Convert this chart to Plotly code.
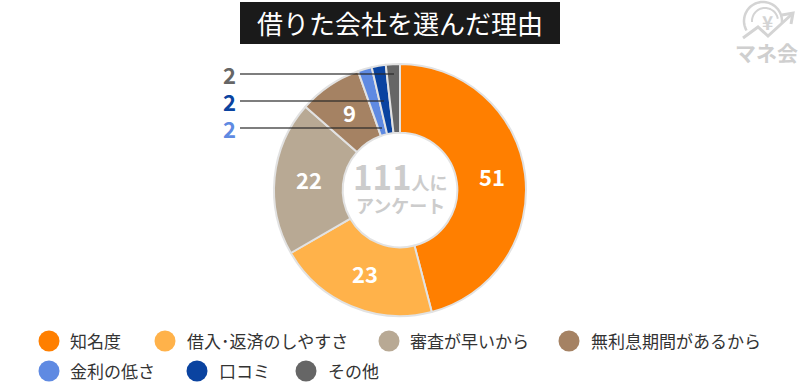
import math
import plotly.graph_objects as go

TITLE = "借りた会社を選んだ理由"
categories = ["知名度", "借入･返済のしやすさ", "審査が早いから", "無利息期間があるから", "金利の低さ", "口コミ", "その他"]
values = [51, 23, 22, 9, 2, 2, 2]
colors = ["#ff7f00", "#ffb24a", "#b8a994", "#a58263", "#5f8ae2", "#0a43a0", "#666666"]
shown_inside = [True, True, True, True, False, False, False]
legend_x = [49, 165, 389, 569, 49, 197, 306]
legend_y = [341, 341, 341, 341, 371, 371, 371]
legend_text_x = [68, 185, 408, 589, 68, 217, 326]

JP = "Noto Sans CJK JP"
CX, CY, R = 400, 190, 126

fig = go.Figure()

fig.add_trace(go.Pie(
    values=values, labels=categories, sort=False, direction="clockwise", rotation=0,
    hole=0.455,
    marker=dict(colors=colors, line=dict(color="#e2e2e2", width=2)),
    textinfo="none",
    domain=dict(x=[(CX - R) / 800, (CX + R) / 800], y=[1 - (CY + R) / 390, 1 - (CY - R) / 390]),
    showlegend=False, hoverinfo="skip",
))

fig.add_trace(go.Scatter(
    x=legend_x, y=legend_y, mode="markers",
    marker=dict(size=21, color=colors, line=dict(width=0)),
    showlegend=False, hoverinfo="skip",
))

ann = []
shapes = []

def text(x, y, s, size, color, anchor="center", bold=False):
    ann.append(dict(x=x, y=y, xref="x", yref="y", text=s, showarrow=False, xanchor=anchor, yanchor="middle",
                    font=dict(family=JP, size=size, color=color, weight=700 if bold else 400)))

# Title
shapes.append(dict(type="rect", x0=240, x1=560, y0=2, y1=44, xref="x", yref="y", fillcolor="#1a1a1a", line=dict(width=0), layer="below"))
text(400, 22, TITLE, 26, "white")

# Value labels inside the ring, placed at the middle of each slice
total = sum(values)
cum = 0
for v, s in zip(values, shown_inside):
    mid = 2 * math.pi * (cum + v / 2) / total
    cum += v
    if s:
        text(CX + 92 * math.sin(mid) + 1, CY - 92 * math.cos(mid) - 2, str(v), 22, "white", bold=True)

# Legend labels
for x, y, c in zip(legend_text_x, legend_y, categories):
    text(x, y - 1, c, 17, "#333333", "left")

# Leader lines and outside value labels
for y, x1, c, v in [(74, 394, colors[6], values[6]), (101, 384, colors[5], values[5]), (128, 382, colors[4], values[4])]:
    shapes.append(dict(type="line", x0=240, x1=x1, y0=y, y1=y, xref="x", yref="y", line=dict(color="rgba(40,40,40,0.8)", width=1.5), layer="above"))
    text(229, y, str(v), 22, c, bold=True)

# Centre label
text(400, 176, "<span style='font-size:33px'>111</span><span style='font-size:18px'>人に</span>", 18, "#cccccc", bold=True)
text(400, 205, "アンケート", 18, "#cccccc", bold=True)

# Logo
LG = "#d4d4d4"
def arc(cx, cy, r, a0, a1, n=40):
    pts = [(cx + r * math.cos(math.radians(a0 + (a1 - a0) * i / n)), cy + r * math.sin(math.radians(a0 + (a1 - a0) * i / n))) for i in range(n + 1)]
    return "M " + " L ".join(f"{a:.1f},{b:.1f}" for a, b in pts)
for path, w in [(arc(763, 21, 19, 150, 365), 2.5), (arc(765, 21, 13, 175, 350), 2),
                ("M 743,38 L 758,27 L 768,36 L 791,15", 3), ("M 782,15 L 793,13 L 791,24", 3)]:
    shapes.append(dict(type="path", path=path, xref="x", yref="y", line=dict(color=LG, width=w), layer="below"))
text(767, 21, "¥", 19, LG, bold=True)
text(766, 52, "マネ会", 21, "#cfcfcf", bold=True)

fig.update_layout(
    width=800, height=390, margin=dict(l=0, r=0, t=0, b=0), autosize=False,
    paper_bgcolor="white", plot_bgcolor="rgba(0,0,0,0)",
    xaxis=dict(range=[0, 800], visible=False, fixedrange=True),
    yaxis=dict(range=[390, 0], visible=False, fixedrange=True),
    annotations=ann, shapes=shapes,
)
fig.write_html("out.html", config=dict(displayModeBar=False),
               post_script="document.body.style.margin='0';document.documentElement.style.overflow='hidden';")
